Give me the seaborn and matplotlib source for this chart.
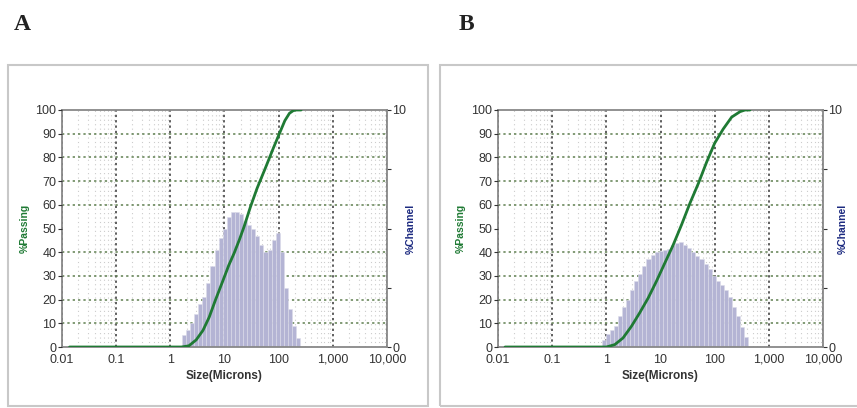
import numpy as np
import pandas as pd
import matplotlib
matplotlib.use("Agg")
import matplotlib.pyplot as plt
import seaborn as sns
from matplotlib.patches import Rectangle
from matplotlib.ticker import FixedLocator, NullFormatter

# channel edges (microns) and % per channel
edges_a = [1.635, 1.945, 2.312, 2.75, 3.27, 3.89, 4.62, 5.5, 6.54, 7.78, 9.25, 11, 13.08,
           15.56, 18.5, 22, 26.16, 31.11, 37, 44, 52.33, 62.23, 74, 88, 104.7, 124.5,
           148, 176, 209.3, 248.9]
channel_a = [0.5, 0.7, 1.0, 1.4, 1.8, 2.1, 2.7, 3.4, 4.1, 4.6, 5.0, 5.5, 5.7, 5.7, 5.6,
             5.3, 5.15, 5.0, 4.7, 4.3, 4.0, 4.1, 4.5, 4.8, 4.0, 2.5, 1.6, 0.9, 0.4]
size_a = [0.0138, 1.6, 2.2, 3.0, 4.0, 5.2, 6.8, 9.0, 12.0, 15.0, 19.0, 23.0, 30.0, 40.0,
          58.0, 80.0, 103.0, 130.0, 158.0, 185.0, 210.0, 260.0]
passing_a = [0, 0, 0.5, 3, 7, 12.5, 19.8, 27, 34.5, 39.5, 45.5, 50.8, 59, 67, 76, 84, 90,
             95.5, 98.6, 99.7, 100, 100]

edges_b = [0.818, 0.972, 1.156, 1.375, 1.635, 1.945, 2.312, 2.75, 3.27, 3.89, 4.62, 5.5,
           6.54, 7.78, 9.25, 11, 13.08, 15.56, 18.5, 22, 26.16, 31.11, 37, 44, 52.33,
           62.23, 74, 88, 104.7, 124.5, 148, 176, 209.3, 248.9, 296, 352, 418.6]
channel_b = [0.3, 0.55, 0.7, 0.9, 1.3, 1.7, 2.0, 2.4, 2.8, 3.1, 3.4, 3.7, 3.9, 4.0, 4.05,
             4.1, 4.15, 4.3, 4.4, 4.45, 4.3, 4.16, 4.0, 3.85, 3.7, 3.5, 3.3, 3.0, 2.8,
             2.6, 2.4, 2.1, 1.7, 1.3, 0.86, 0.44]
size_b = [0.0135, 1.0, 1.43, 2.03, 2.9, 4.1, 5.9, 8.4, 12.0, 17.1, 24.4, 35.0, 50.0, 71.0,
          100.0, 144.0, 206.0, 294.0, 364.0, 450.0]
passing_b = [0, 0, 1, 3.8, 8.7, 14.3, 20.6, 27.7, 35.4, 43, 51.5, 60.7, 69, 78, 86, 92,
             97, 99.3, 100, 100]

x_ticks = [0.01, 0.1, 1, 10, 100, 1000, 10000]
x_labels = ["0.01", "0.1", "1", "10", "100", "1,000", "10,000"]

GREEN = "#1f7a34"
NAVY = "#1c2a80"
HIST = "#b4b4d4"

sns.set_style("white")
plt.rcParams["font.family"] = ["Liberation Sans Narrow", "Liberation Sans", "DejaVu Sans"]

W, H = 857, 408
fig = plt.figure(figsize=(W / 100, H / 100), dpi=100)
fig.patch.set_facecolor("white")

# panel frames
for x0, x1 in [(8, 428), (440, 860)]:
    fig.add_artist(Rectangle((x0 / W, 1 - 406 / H), (x1 - x0) / W, (406 - 65) / H,
                             transform=fig.transFigure, fill=False,
                             edgecolor="#c8c8c8", lw=1.5))


def panel(left_px, edges, channel, size, passing, letter, letter_x, right_lab_px):
    ax = fig.add_axes([left_px / W, 1 - 347 / H, 325 / W, (347 - 110) / H])
    e = np.array(edges)
    df = pd.DataFrame({"size": np.sqrt(e[:-1] * e[1:]), "pct": channel})
    sns.histplot(data=df, x="size", weights="pct", bins=list(np.log10(e)),
                 log_scale=True, ax=ax, color=HIST, alpha=1,
                 edgecolor="#dcdcea", linewidth=0.4)
    ax.set_xlim(0.01, 10000)
    ax.set_ylim(0, 10)
    ax.set_axisbelow(True)

    ax.xaxis.set_major_locator(FixedLocator(x_ticks))
    ax.set_xticklabels(x_labels)
    minors = [m * d for d in x_ticks[:-1] for m in range(2, 10)]
    ax.xaxis.set_minor_locator(FixedLocator(minors))
    ax.xaxis.set_minor_formatter(NullFormatter())
    ax.tick_params(axis="x", which="major", length=3, labelsize=9, pad=2, colors="#333")
    ax.tick_params(axis="x", which="minor", length=2, colors="#555")
    ax.set_xlabel("Size(Microns)", fontsize=8.5, fontweight="bold", color="#333",
                  labelpad=3)

    ax.set_yticks([0, 2.5, 5, 7.5, 10])
    ax.set_yticklabels(["0", "", "", "", "10"])
    ax.set_yticks(np.arange(0, 11), minor=True)

    ax.grid(True, axis="y", which="minor", color="#5f7f50", linestyle=(0, (1.5, 2)), lw=1.1)
    ax.grid(False, axis="y", which="major")
    ax.grid(True, axis="x", which="major", color="#333", linestyle=(0, (1.5, 2)), lw=1.1)
    ax.grid(True, axis="x", which="minor", color="#cccccc", linestyle=(0, (1, 3)), lw=0.8)

    for sp in ax.spines.values():
        sp.set_color("#888")
        sp.set_linewidth(1.3)

    # left axis (passing)
    axl = ax.twinx()
    axl.yaxis.tick_left()
    axl.yaxis.set_label_position("left")
    sns.lineplot(x=size, y=passing, ax=axl, color=GREEN, lw=2)
    axl.set_ylim(0, 100)
    axl.set_xlim(0.01, 10000)
    axl.set_yticks(np.arange(0, 101, 10))
    axl.tick_params(axis="y", length=3, labelsize=9, pad=1, colors="#333")
    axl.set_ylabel("%Passing", color=GREEN, fontsize=7.5, fontweight="bold")
    axl.yaxis.set_label_coords(-32 / 325, 0.5)
    for sp in axl.spines.values():
        sp.set_visible(False)

    # right axis (channel) -- twinx moved it, put it back
    ax.yaxis.tick_right()
    ax.yaxis.set_label_position("right")
    ax.tick_params(axis="y", which="minor", length=0)
    ax.tick_params(axis="y", which="major", length=3, labelsize=9, pad=1, colors="#333")
    ax.set_ylabel("%Channel", color=NAVY, fontsize=7.5, fontweight="bold",
                  rotation=90, va="center", ha="center")
    ax.yaxis.set_label_coords((right_lab_px - left_px) / 325, 0.5)

    fig.text(letter_x / W, 1 - 24 / H, letter, fontsize=17, fontweight="bold",
             family="Liberation Serif", ha="left", va="center", color="#222")


panel(62, edges_a, channel_a, size_a, passing_a, "A", 14, 411)
panel(498, edges_b, channel_b, size_b, passing_b, "B", 459, 843)

fig.savefig("out.png", dpi=100)
